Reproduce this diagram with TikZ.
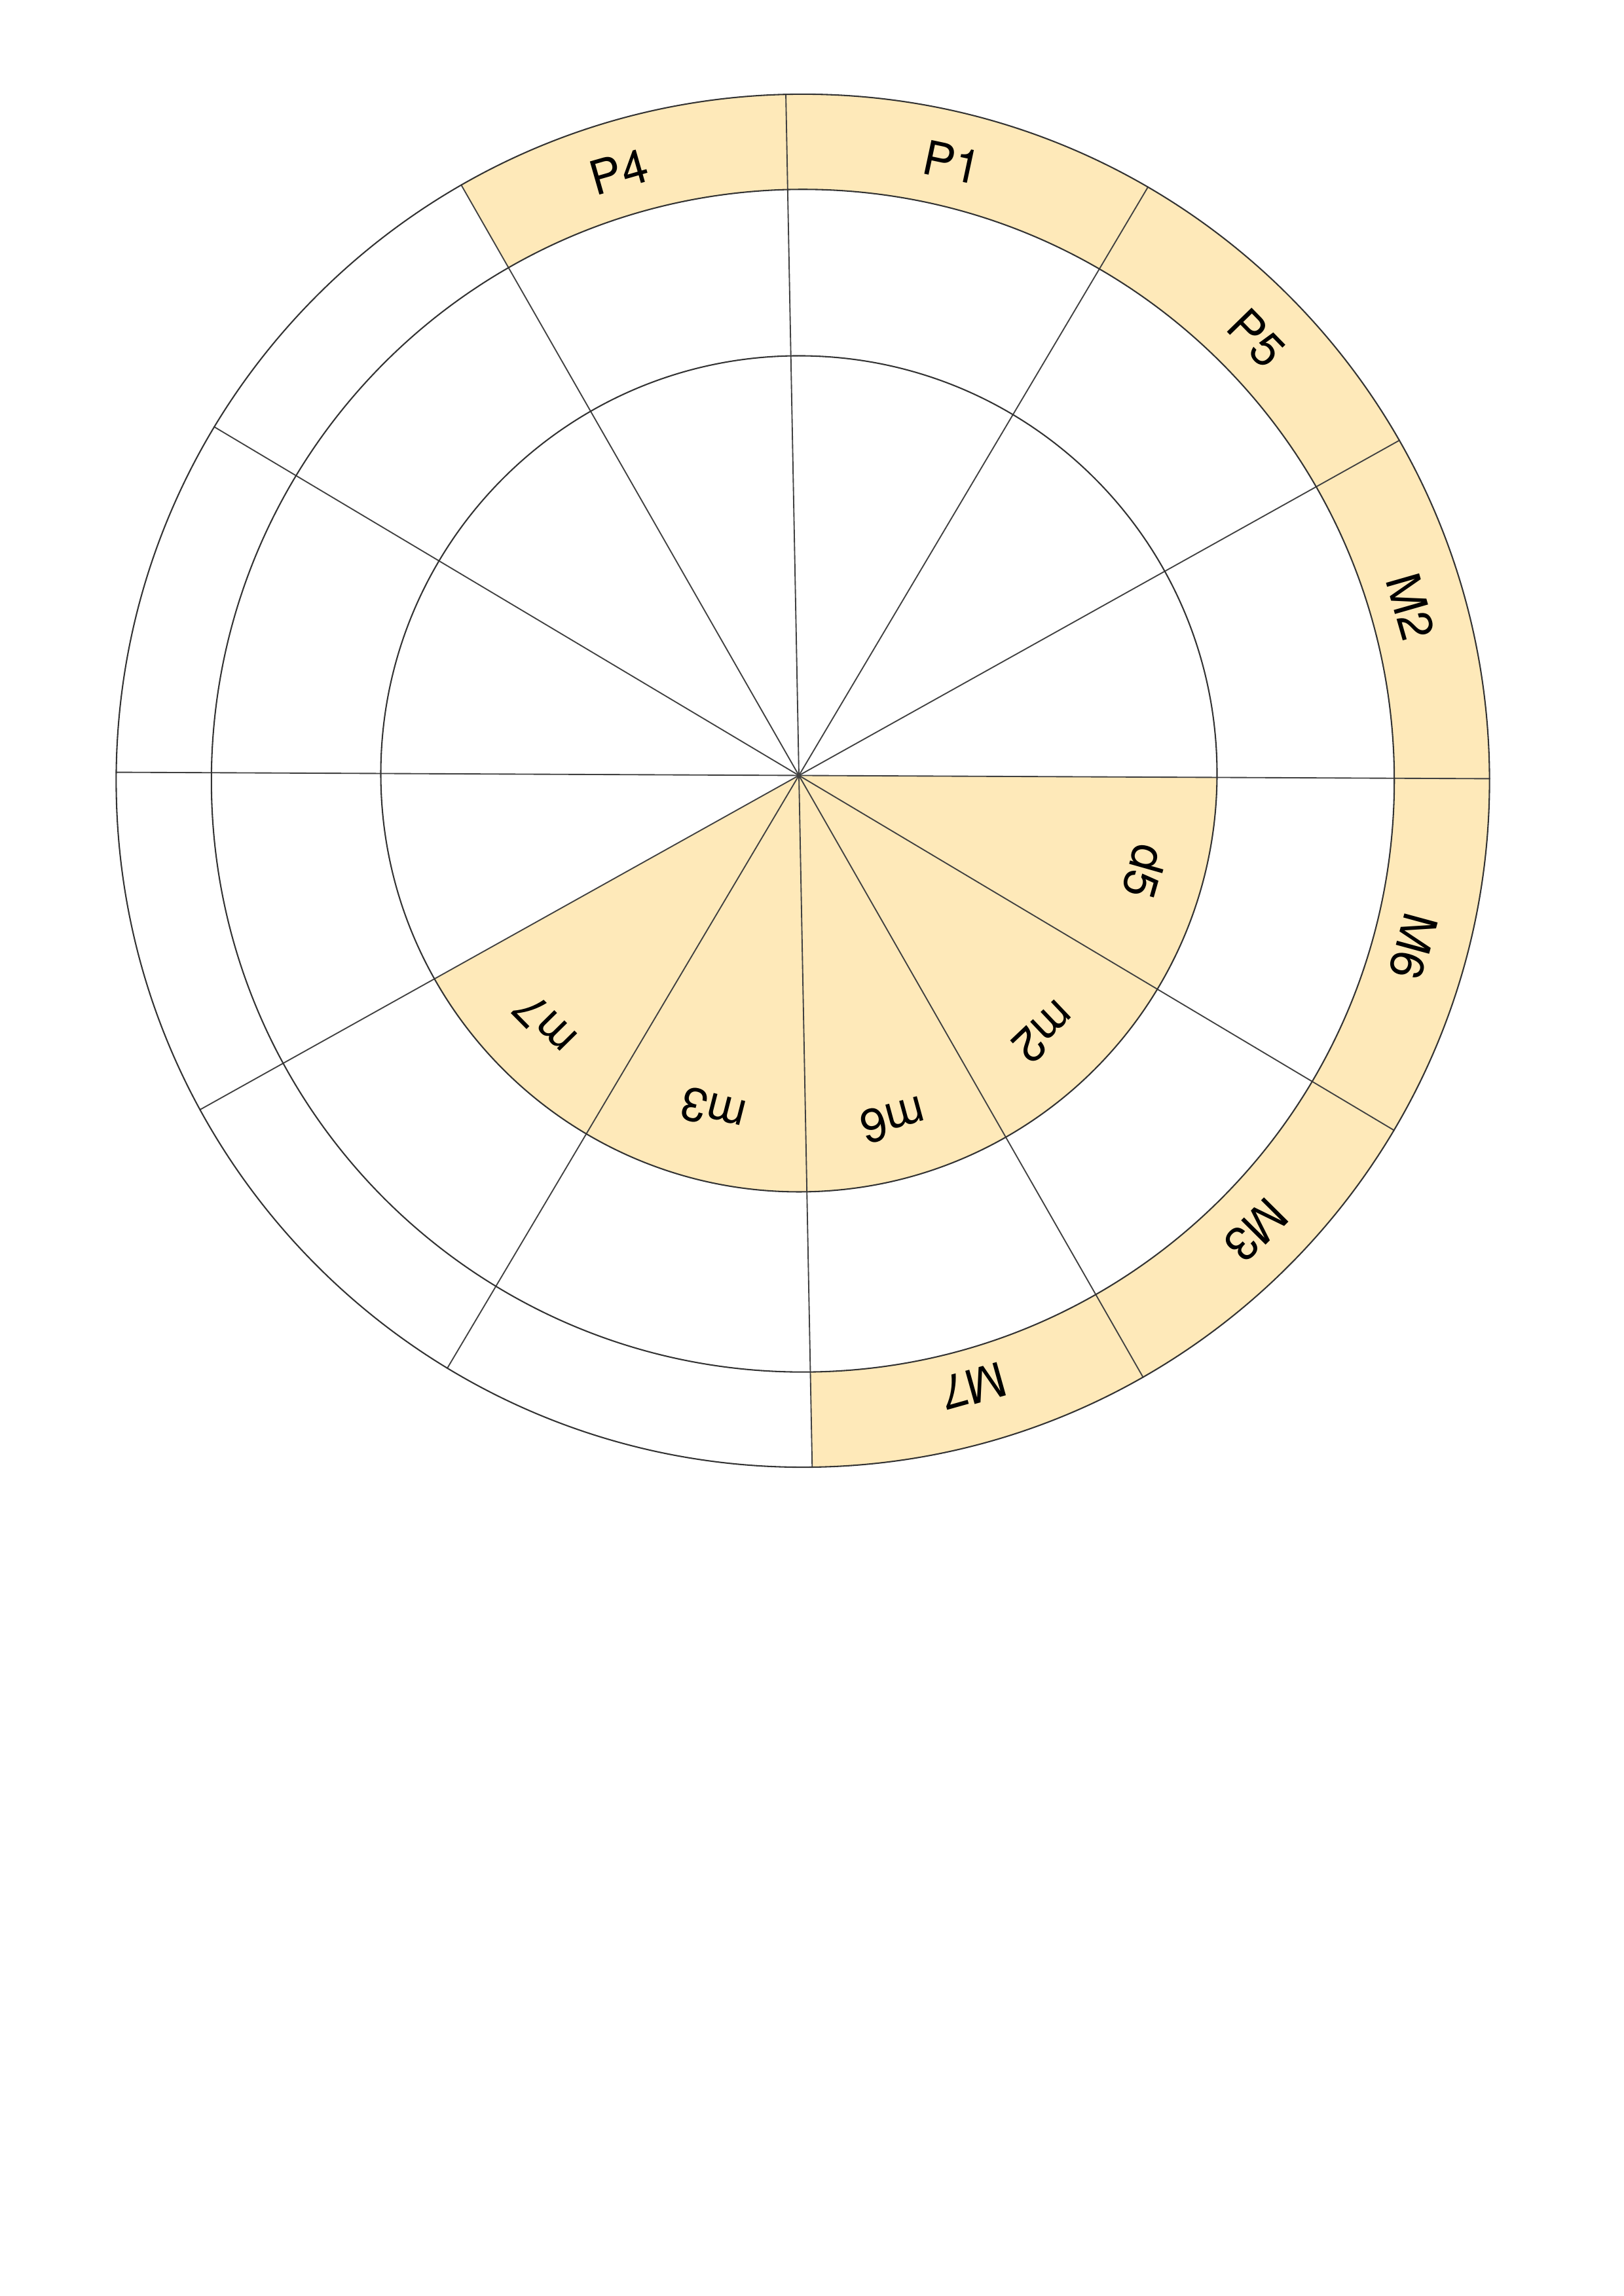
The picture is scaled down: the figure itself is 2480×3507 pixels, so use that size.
\documentclass[tikz,border=0pt]{standalone}
\usepackage{fontspec}
\setmainfont{TeX Gyre Heros}
\definecolor{seg}{RGB}{254,233,185}
\begin{document}
\begin{tikzpicture}[x=0.0846774mm,y=0.0846774mm,
  ring/.style={draw=black!80, line width=0.5pt},
  ray/.style={draw=black!75, line width=0.45pt},
  lab/.style={font=\fontsize{17.4}{20}\selectfont, inner sep=0pt, text=black}]
\useasboundingbox (0,0) rectangle (2480,3507);
\coordinate (O) at (1220,2322.5);
\coordinate (C) at (1226,2314.5);
\coordinate (Ci) at (1220,2325);

% outer ring fill
\begin{scope}
  \clip (O) -- ++(-88.9:1400) arc[start angle=-88.9, end angle=119.76, radius=1400] -- cycle;
  \fill[seg, even odd rule] (C) circle[radius=1048.6] (C) circle[radius=903.2];
\end{scope}
% inner disc fill
\begin{scope}
  \clip (O) -- ++(-150.83:1400) arc[start angle=-150.83, end angle=-0.27, radius=1400] -- cycle;
  \fill[seg] (Ci) circle[radius=638.5];
\end{scope}

% radial lines
\begin{scope}
  \clip (C) circle[radius=1049.5];
  \foreach \a in {-0.27, 29.17, 59.33, 91.1, 119.76, 149.19}
    \draw[ray] (O) ++(\a:1100) -- ++(\a+180:2200);
\end{scope}

% circles
\draw[ring] (C) circle[radius=1048.6];
\draw[ring] (C) circle[radius=903.2];
\draw[ring] (Ci) circle[radius=638.5];

% outer labels
\path (C) ++(106.8:972) node[lab, rotate=16] (p4) {P4};
\path (C) ++(76.4:972) node[lab, rotate=-12] (p1) {P1};
\path (C) ++(44.3:968) node[lab, rotate=-45.7] (p5) {P5};
\path (C) ++(16:966) node[lab, rotate=-74] (m2o) {M2};
\path (C) ++(-15.2:966) node[lab, rotate=-105.2] (m6o) {M6};
\path (C) ++(-44.8:975) node[lab, rotate=-134.8] (m3o) {M3};
\path (C) ++(-74.3:962) node[lab, rotate=-164.3] (m7o) {M7};

% inner labels
\path (Ci) ++(-15.8:549) node[lab, rotate=-105.8] (d5) {d5};
\path (Ci) ++(-46.5:544) node[lab, rotate=-136.5] (m2i) {m2};
\path (Ci) ++(-74.8:548) node[lab, rotate=-164.8] (m6i) {m6};
\path (Ci) ++(-104.3:530) node[lab, rotate=165.7] (m3i) {m3};
\path (Ci) ++(-135.4:545) node[lab, rotate=134.6] (m7i) {m7};
\end{tikzpicture}
\end{document}
